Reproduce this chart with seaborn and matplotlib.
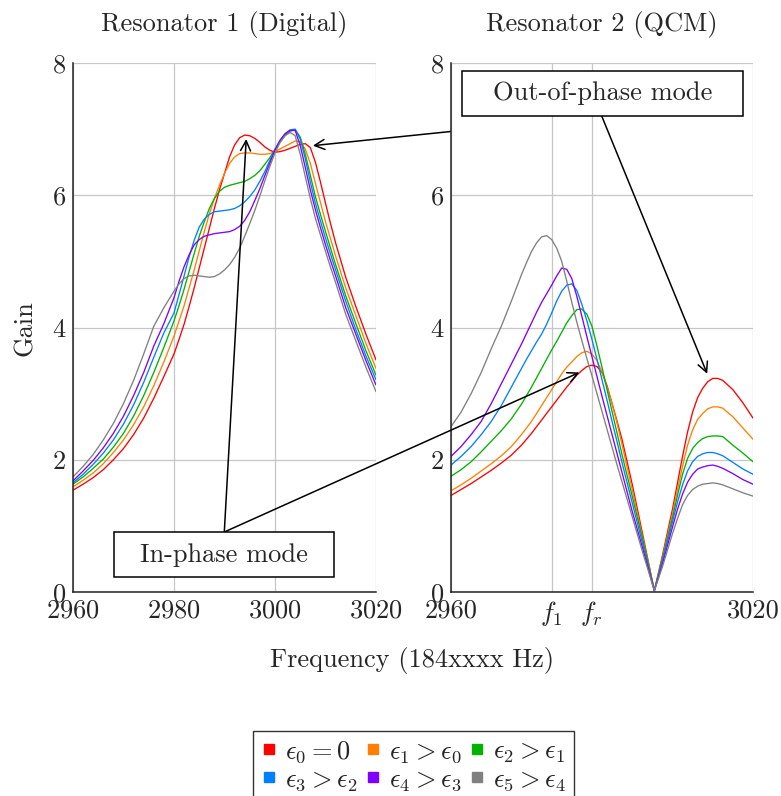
import numpy as np
import pandas as pd
import matplotlib
matplotlib.use('Agg')
import matplotlib.pyplot as plt
import seaborn as sns
from matplotlib.patches import Rectangle
from matplotlib.lines import Line2D

# ---- data ----
freq_digital = [2960, 2962, 2964, 2966, 2968, 2970, 2972, 2974, 2976, 2978,
                2980, 2981, 2982, 2983, 2984, 2985, 2986, 2987, 2988, 2989,
                2990, 2991, 2992, 2993, 2994, 2995, 2996, 2997, 2998, 2999,
                3000, 3001, 3002, 3003, 3004, 3005, 3006, 3007, 3008, 3009,
                3010, 3011, 3012, 3014, 3016, 3018, 3020]

digital_e0 = [1.54, 1.63, 1.73, 1.85, 2.00, 2.17, 2.38, 2.63, 2.93, 3.26,
              3.60, 3.82, 4.05, 4.32, 4.60, 4.90, 5.20, 5.50, 5.80, 6.08,
              6.33, 6.58, 6.76, 6.87, 6.91, 6.90, 6.86, 6.80, 6.73, 6.68,
              6.65, 6.66, 6.68, 6.71, 6.74, 6.77, 6.78, 6.72, 6.50, 6.20,
              5.88, 5.57, 5.28, 4.76, 4.32, 3.90, 3.51]
digital_e1 = [1.59, 1.69, 1.80, 1.94, 2.11, 2.30, 2.53, 2.80, 3.12, 3.48,
              3.87, 4.10, 4.33, 4.60, 4.87, 5.16, 5.45, 5.72, 5.95, 6.15,
              6.33, 6.48, 6.58, 6.63, 6.64, 6.64, 6.63, 6.62, 6.62, 6.63,
              6.66, 6.70, 6.74, 6.78, 6.82, 6.81, 6.70, 6.48, 6.18, 5.89,
              5.60, 5.34, 5.08, 4.60, 4.18, 3.76, 3.38]
digital_e2 = [1.63, 1.74, 1.87, 2.01, 2.19, 2.40, 2.66, 2.97, 3.32, 3.70,
              4.10, 4.33, 4.58, 4.85, 5.12, 5.38, 5.60, 5.80, 5.95, 6.06,
              6.12, 6.15, 6.17, 6.19, 6.21, 6.25, 6.30, 6.37, 6.47, 6.57,
              6.69, 6.80, 6.91, 6.97, 6.99, 6.88, 6.62, 6.30, 5.98, 5.71,
              5.45, 5.20, 4.95, 4.48, 4.06, 3.65, 3.28]
digital_e3 = [1.65, 1.78, 1.93, 2.10, 2.30, 2.54, 2.83, 3.17, 3.55, 3.92,
              4.22, 4.50, 4.78, 5.07, 5.32, 5.52, 5.64, 5.71, 5.75, 5.76,
              5.77, 5.78, 5.80, 5.84, 5.90, 5.98, 6.08, 6.21, 6.36, 6.53,
              6.70, 6.83, 6.93, 6.99, 7.00, 6.85, 6.55, 6.20, 5.88, 5.61,
              5.35, 5.11, 4.87, 4.40, 3.97, 3.57, 3.21]
digital_e4 = [1.68, 1.83, 1.99, 2.18, 2.40, 2.66, 2.97, 3.32, 3.72, 4.06,
              4.45, 4.70, 4.92, 5.10, 5.25, 5.33, 5.38, 5.40, 5.42, 5.43,
              5.44, 5.45, 5.48, 5.53, 5.62, 5.75, 5.92, 6.10, 6.30, 6.49,
              6.68, 6.83, 6.93, 6.98, 6.98, 6.75, 6.42, 6.08, 5.78, 5.51,
              5.25, 5.01, 4.78, 4.30, 3.90, 3.50, 3.13]
digital_e5 = [1.74, 1.90, 2.08, 2.30, 2.55, 2.85, 3.20, 3.60, 4.02, 4.30,
              4.55, 4.66, 4.74, 4.78, 4.79, 4.78, 4.77, 4.76, 4.77, 4.81,
              4.87, 4.95, 5.06, 5.20, 5.38, 5.57, 5.77, 5.99, 6.22, 6.44,
              6.64, 6.80, 6.90, 6.95, 6.90, 6.62, 6.28, 5.95, 5.65, 5.40,
              5.15, 4.91, 4.68, 4.20, 3.80, 3.40, 3.03]

freq_qcm = [2960, 2962, 2964, 2966, 2968, 2970, 2972, 2974, 2975, 2976,
            2977, 2978, 2979, 2980, 2981, 2982, 2983, 2984, 2985, 2986,
            2987, 2988, 2989, 2990, 2991, 2992, 2993, 2994, 2996, 2998,
            3000.4, 3002, 3004, 3005, 3006, 3007, 3008, 3009, 3010, 3011,
            3012, 3013, 3014, 3016, 3018, 3020]

qcm_e0 = [1.46, 1.55, 1.64, 1.74, 1.84, 1.95, 2.07, 2.22, 2.31, 2.40,
          2.50, 2.60, 2.70, 2.80, 2.90, 3.00, 3.10, 3.19, 3.28, 3.35,
          3.41, 3.43, 3.41, 3.32, 3.12, 2.85, 2.58, 2.30, 1.63, 0.90,
          0.02, 0.55, 1.25, 1.65, 2.05, 2.42, 2.72, 2.94, 3.08, 3.18,
          3.23, 3.23, 3.20, 3.06, 2.86, 2.63]
qcm_e1 = [1.53, 1.62, 1.72, 1.83, 1.94, 2.06, 2.20, 2.38, 2.48, 2.58,
          2.70, 2.82, 2.94, 3.06, 3.18, 3.30, 3.40, 3.48, 3.56, 3.62,
          3.64, 3.60, 3.50, 3.33, 3.10, 2.85, 2.55, 2.22, 1.55, 0.85,
          0.02, 0.52, 1.18, 1.55, 1.90, 2.22, 2.45, 2.61, 2.70, 2.77,
          2.80, 2.80, 2.78, 2.65, 2.48, 2.31]
qcm_e2 = [1.75, 1.85, 1.97, 2.12, 2.28, 2.44, 2.62, 2.84, 2.97, 3.10,
          3.24, 3.38, 3.52, 3.66, 3.79, 3.93, 4.07, 4.18, 4.27, 4.28,
          4.20, 4.02, 3.72, 3.40, 3.06, 2.73, 2.40, 2.07, 1.45, 0.82,
          0.02, 0.50, 1.12, 1.46, 1.78, 2.02, 2.17, 2.26, 2.32, 2.35,
          2.36, 2.36, 2.35, 2.22, 2.10, 1.97]
qcm_e3 = [1.92, 2.05, 2.20, 2.38, 2.58, 2.82, 3.10, 3.38, 3.52, 3.65,
          3.78, 3.90, 4.05, 4.22, 4.40, 4.55, 4.64, 4.66, 4.56, 4.35,
          4.10, 3.82, 3.52, 3.21, 2.90, 2.58, 2.27, 1.95, 1.35, 0.75,
          0.02, 0.47, 1.06, 1.36, 1.62, 1.83, 1.97, 2.05, 2.09, 2.11,
          2.11, 2.09, 2.06, 1.96, 1.86, 1.78]
qcm_e4 = [2.05, 2.20, 2.38, 2.58, 2.85, 3.15, 3.45, 3.75, 3.91, 4.07,
          4.23, 4.38, 4.51, 4.64, 4.78, 4.90, 4.88, 4.74, 4.47, 4.17,
          3.86, 3.56, 3.26, 2.96, 2.67, 2.38, 2.09, 1.80, 1.22, 0.68,
          0.02, 0.42, 0.98, 1.25, 1.48, 1.66, 1.78, 1.86, 1.89, 1.91,
          1.92, 1.90, 1.87, 1.79, 1.70, 1.63]
qcm_e5 = [2.50, 2.72, 3.00, 3.32, 3.68, 4.02, 4.40, 4.80, 4.98, 5.15,
          5.28, 5.37, 5.39, 5.33, 5.20, 5.00, 4.70, 4.38, 4.08, 3.80,
          3.53, 3.27, 3.00, 2.73, 2.46, 2.19, 1.92, 1.66, 1.14, 0.62,
          0.02, 0.38, 0.88, 1.11, 1.32, 1.46, 1.55, 1.60, 1.63, 1.64,
          1.65, 1.64, 1.62, 1.56, 1.50, 1.45]

labels = [r'$\epsilon_0 = 0$', r'$\epsilon_1 > \epsilon_0$', r'$\epsilon_2 > \epsilon_1$',
          r'$\epsilon_3 > \epsilon_2$', r'$\epsilon_4 > \epsilon_3$', r'$\epsilon_5 > \epsilon_4$']
colors = ['#ff0000', '#ff8000', '#00b300', '#0080ff', '#8000ff', '#808080']

qcm_ticks = [2960, 2980, 2988, 3020]
qcm_ticklabels = ['2960', r'$f_1$', r'$f_r$', '3020']


def to_long(freq, curves):
    frames = [pd.DataFrame({'freq': freq, 'gain': g, 'eps': lab})
              for lab, g in zip(labels, curves)]
    return pd.concat(frames, ignore_index=True)


df_digital = to_long(freq_digital, [digital_e0, digital_e1, digital_e2,
                                    digital_e3, digital_e4, digital_e5])
df_qcm = to_long(freq_qcm, [qcm_e0, qcm_e1, qcm_e2, qcm_e3, qcm_e4, qcm_e5])

sns.set_style('white')
plt.rcParams['font.family'] = ['cmr10', 'DejaVu Serif']
plt.rcParams['mathtext.fontset'] = 'cm'
plt.rcParams['axes.formatter.use_mathtext'] = True
FS = 19

W, H = 781, 796
fig = plt.figure(figsize=(W / 100, H / 100), dpi=100)


def px_axes(x0, x1, y0, y1):
    return fig.add_axes([x0 / W, 1 - y1 / H, (x1 - x0) / W, (y1 - y0) / H])


ax1 = px_axes(73, 376, 63, 592)
ax2 = px_axes(451, 753, 63, 592)

palette = dict(zip(labels, colors))
for ax, df in [(ax1, df_digital), (ax2, df_qcm)]:
    sns.lineplot(data=df, x='freq', y='gain', hue='eps', palette=palette,
                 hue_order=labels, ax=ax, legend=False, errorbar=None, lw=0.95)
    ax.set_xlim(2960, 3020)
    ax.set_ylim(0, 8)
    ax.set_yticks([0, 2, 4, 6, 8])
    ax.set_xlabel('')
    ax.set_ylabel('')
    ax.grid(True, color='#c6c6c6', lw=0.9)
    ax.set_axisbelow(True)
    ax.spines[['top', 'right']].set_visible(False)
    for s in ['left', 'bottom']:
        ax.spines[s].set_color('#222222')
        ax.spines[s].set_linewidth(1.1)
    ax.tick_params(direction='in', length=8, width=0.9, color='#555555',
                   labelsize=FS, pad=5)

ax1.set_xticks([2960, 2980, 3000, 3020])
ax2.set_xticks(qcm_ticks)
ax2.set_xticklabels(qcm_ticklabels)

ax1.set_title('Resonator 1 (Digital)', fontsize=FS, pad=23)
ax2.set_title('Resonator 2 (QCM)', fontsize=FS, pad=23)
fig.text(25 / W, 1 - 328 / H, 'Gain', rotation=90, ha='center', va='center', fontsize=FS)
fig.text(412 / W, 1 - 660 / H, 'Frequency (184xxxx Hz)', ha='center', va='center', fontsize=FS)

# ---- annotation boxes and arrows ----
def box(x0, x1, y0, y1, text):
    fig.add_artist(Rectangle((x0 / W, 1 - y1 / H), (x1 - x0) / W, (y1 - y0) / H,
                             transform=fig.transFigure, fc='white', ec='black',
                             lw=1.1, zorder=5))
    fig.text((x0 + x1) / 2 / W, 1 - (y0 + y1) / 2 / H, text, ha='center',
             va='center', fontsize=FS, zorder=6)


def arrow(ax, xy, start):
    ax.annotate('', xy=xy, xycoords='data',
                xytext=(start[0] / W, 1 - start[1] / H), textcoords='figure fraction',
                arrowprops=dict(arrowstyle='->,head_length=0.6,head_width=0.3',
                                color='black', lw=1.1, shrinkA=0, shrinkB=0,
                                mutation_scale=12),
                annotation_clip=False, zorder=4)


arrow(ax1, (3007.5, 6.75), (601.7, 116))
arrow(ax2, (3010.9, 3.3), (601.7, 116))
arrow(ax1, (2994.3, 6.85), (224.3, 532))
arrow(ax2, (2985.5, 3.32), (224.3, 532))
box(462.5, 742.7, 70.7, 116, 'Out-of-phase mode')
box(114, 334, 532, 577.3, 'In-phase mode')

# ---- legend ----
handles = [Line2D([], [], marker='s', ls='none', color=c, markersize=7) for c in colors]
order = [0, 3, 1, 4, 2, 5]
leg = fig.legend([handles[i] for i in order], [labels[i] for i in order],
                 ncol=3, loc='upper center', bbox_to_anchor=(413.5 / W, 1 - 731 / H),
                 fontsize=FS, frameon=True, fancybox=False, edgecolor='black',
                 handlelength=0.6, handletextpad=0.3, columnspacing=0.3,
                 labelspacing=0.12, borderpad=0.3, borderaxespad=0)
leg.get_frame().set_linewidth(1.0)

fig.savefig('out.png', dpi=100)
